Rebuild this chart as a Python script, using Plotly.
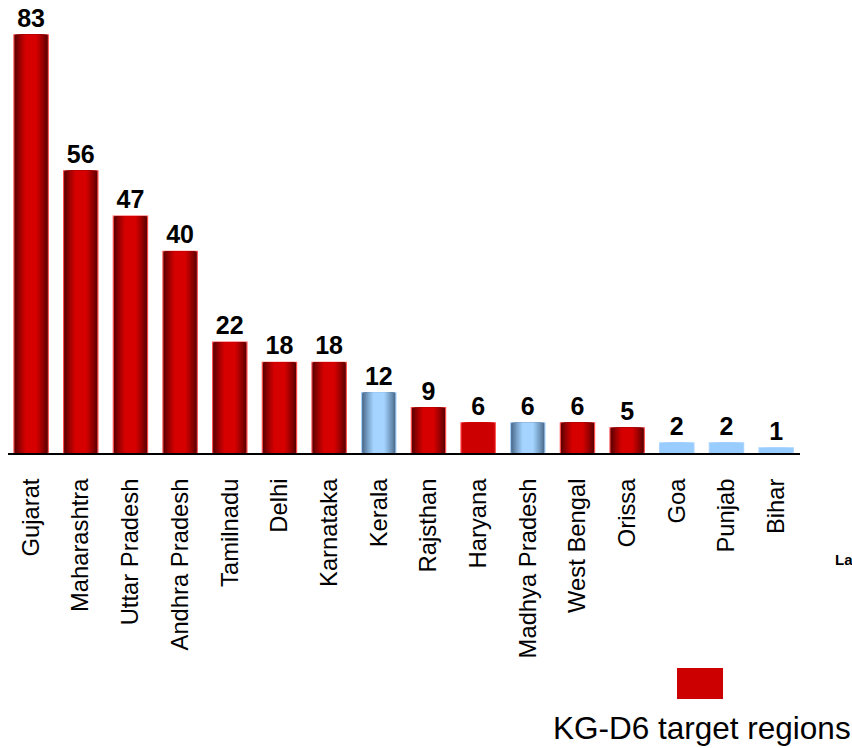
import plotly.graph_objects as go

# State-wise demand (figures shown above each bar)
states = ["Gujarat", "Maharashtra", "Uttar Pradesh", "Andhra Pradesh", "Tamilnadu",
          "Delhi", "Karnataka", "Kerala", "Rajsthan", "Haryana", "Madhya Pradesh",
          "West Bengal", "Orissa", "Goa", "Punjab", "Bihar"]
values = [83, 56, 47, 40, 22, 18, 18, 12, 9, 6, 6, 6, 5, 2, 2, 1]
# True = KG-D6 target region (red), False = other region (blue)
target = [True, True, True, True, True, True, True, False, True, True, False,
          True, True, False, False, False]
# True = drawn with cylinder shading, False = flat fill
shaded = [True, True, True, True, True, True, True, True, True, False, True,
          True, True, False, False, False]

RED_EDGE, RED_MID, RED_FLAT = (80, 0, 0), (214, 0, 0), "#cc0000"
BLUE_EDGE, BLUE_MID, BLUE_FLAT = (66, 96, 128), (164, 212, 255), "#99ccff"
BAR_W = 0.69
N_LAYERS = 14


def mix(a, b, t):
    return "rgb(%d,%d,%d)" % tuple(round(a[i] + (b[i] - a[i]) * t) for i in range(3))


fig = go.Figure()

# Overlay progressively narrower bars to build a horizontal shading gradient
for k in range(N_LAYERS):
    frac = 1 - k * 0.052
    t = (k / (N_LAYERS - 1)) ** 0.8
    colors = []
    for is_t, is_s in zip(target, shaded):
        if is_t:
            colors.append(mix(RED_EDGE, RED_MID, t) if is_s else RED_FLAT)
        else:
            colors.append(mix(BLUE_EDGE, BLUE_MID, t) if is_s else BLUE_FLAT)
    outer = k == 0
    fig.add_trace(go.Bar(
        x=states, y=values,
        width=[BAR_W * frac] * len(states),
        marker=dict(
            color=colors,
            line=dict(
                color=["#ff4a4a" if is_t else "#a8d4ff" for is_t in target] if outer else "rgba(0,0,0,0)",
                width=1.2 if outer else 0,
            ),
        ),
        text=values if outer else None,
        textposition="outside" if outer else "none",
        textfont=dict(family="Liberation Sans, Arial", size=25, color="black", weight="bold"),
        cliponaxis=False,
        showlegend=False,
        hoverinfo="x+y" if outer else "skip",
    ))

fig.update_layout(
    width=852, height=748,
    margin=dict(l=8, r=52, t=0, b=295),
    paper_bgcolor="white", plot_bgcolor="white",
    barmode="overlay",
    font=dict(family="Liberation Sans, Arial", color="black"),
    xaxis=dict(
        type="category",
        range=[-0.465, len(states) - 1 + 0.48],
        showline=True, linecolor="black", linewidth=2,
        showgrid=False, zeroline=False,
        ticks="", tickangle=-90,
        tickfont=dict(size=23.8, color="black"),
        ticklabelstandoff=14,
    ),
    yaxis=dict(range=[0, 89.9], visible=False, showgrid=False, zeroline=False),
)

# Legend swatch and caption
fig.add_shape(type="rect", xref="paper", yref="paper",
              x0=0.8447, x1=0.9028, y0=-0.543, y1=-0.4746,
              fillcolor=RED_FLAT, line=dict(width=0))
fig.add_annotation(text="KG-D6 target regions", xref="paper", yref="paper",
                   x=0.8763, y=-0.607, showarrow=False, xanchor="center", yanchor="middle",
                   font=dict(size=31.5, color="black", family="Liberation Sans, Arial"))
fig.add_annotation(text="<b>La</b>", xref="paper", yref="paper",
                   x=1.0417, y=-0.236, showarrow=False, xanchor="left", yanchor="middle",
                   font=dict(size=15, color="black", family="Liberation Sans, Arial"))

fig.write_html("out.html")
